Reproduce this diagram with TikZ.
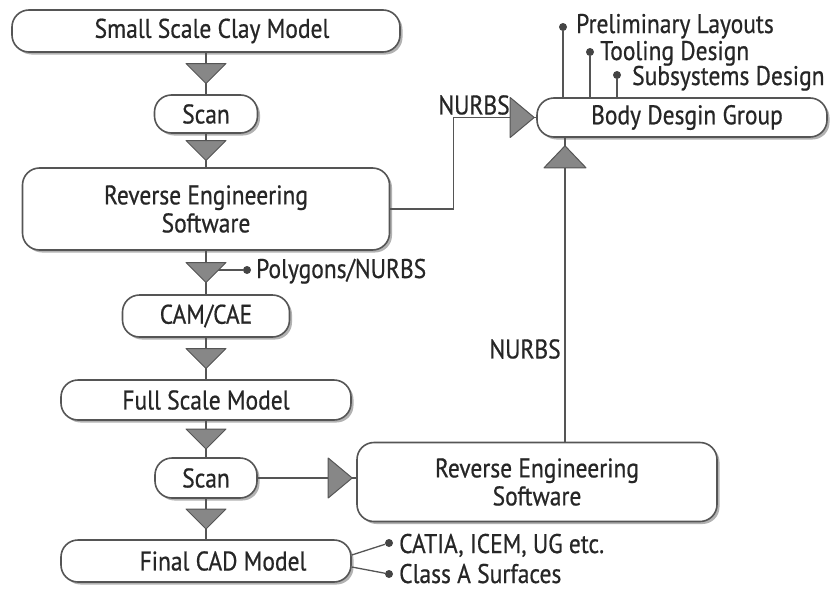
\documentclass[tikz,border=0pt]{standalone}
\usepackage{fontspec}
\setmainfont[FakeStretch=0.87,FakeBold=0.6]{PT Sans}
\usetikzlibrary{shadows,calc}
\definecolor{ink}{HTML}{262626}
\definecolor{edge}{HTML}{555555}
\definecolor{trifill}{HTML}{878787}
\tikzset{
  stage/.style={draw=edge, line width=1.6pt, fill=white, rounded corners=17pt,
    text=ink, font=\fontsize{27}{28}\selectfont, align=center, inner sep=0pt,
    drop shadow={shadow xshift=2.5pt, shadow yshift=-2.5pt, opacity=0.3, fill=black}},
  conn/.style={draw=edge, line width=1.6pt},
  leader/.style={draw=edge, line width=1.3pt},
  tri/.style={fill=trifill, draw=edge, line width=1pt, line join=round},
  dot/.style={circle, fill=edge!80!black, inner sep=0pt, minimum size=8pt},
  lbl/.style={text=ink, font=\fontsize{27}{28}\selectfont, inner sep=0pt},
  note/.style={lbl, anchor=base west},
  pics/downtri/.style={code={\path[tri] (-20,-10) -- (20,-10) -- (0,10) -- cycle;}},
  pics/righttri/.style={code={\path[tri] (-12,-20) -- (-12,20) -- (12,0) -- cycle;}},
  pics/uptri/.style={code={\path[tri] (-21,11) -- (21,11) -- (0,-11) -- cycle;}},
}
\begin{document}
\begin{tikzpicture}[x=1pt,y=-1pt]
\useasboundingbox (0,0) rectangle (837,589);

% main column of process stages
\node[stage, minimum width=388pt, minimum height=42pt] (clay)  at (206,31)  {\hspace*{12pt}Small Scale Clay Model};
\node[stage, minimum width=103pt, minimum height=38pt] (scan1) at (206,114) {Scan};
\node[stage, minimum width=367pt, minimum height=82pt] (re1)   at (206,209) {Reverse Engineering\\Software};
\node[stage, minimum width=167pt, minimum height=42pt] (cam)   at (206,316) {CAM/CAE};
\node[stage, minimum width=290pt, minimum height=40pt] (full)  at (206,400) {Full Scale Model};
\node[stage, minimum width=102pt, minimum height=40pt] (scan2) at (206,478) {Scan};
\node[stage, minimum width=290pt, minimum height=42pt] (final) at (206,561) {\hspace*{34pt}Final CAD Model};

% right-hand stages
\node[stage, minimum width=360pt, minimum height=79pt] (re2)  at (537,482) {Reverse Engineering\\Software};
\node[stage, minimum width=290pt, minimum height=39pt] (body) at (682,117.5) {\hspace*{10pt}Body Desgin Group};

% downward flow with arrow triangles
\draw[conn] (clay)  -- coordinate (m1) (scan1);
\draw[conn] (scan1) -- coordinate (m2) (re1);
\draw[conn] (re1)   -- coordinate (m3) (cam);
\draw[conn] (cam)   -- coordinate (m4) (full);
\draw[conn] (full)  -- coordinate (m5) (scan2);
\draw[conn] (scan2) -- coordinate (m6) (final);

% polygon output note
\node[dot] (dpoly) at (247,270) {};
\node[note] (tpoly) at (256,278) {Polygons/NURBS};
\draw[leader] (m3 |- dpoly) -- (dpoly);

\foreach \m in {m1,m2,m3,m4,m5,m6} \pic at (\m) {downtri};

% scan to second reverse engineering step
\coordinate (re2in) at (scan2.east -| re2.west);
\draw[conn] (scan2.east) -- (re2in);
\pic at ([xshift=-16pt]re2in) {righttri};

% NURBS from first reverse engineering step to body design
\draw[conn] (re1.east) -- ++(63,0) |- (body.west);
\pic at ([xshift=-14pt]body.west) {righttri};
\node[lbl] (nurbsA) at (474,105) {NURBS};

% NURBS from second reverse engineering step up to body design
\coordinate (r2top) at ([xshift=28pt]re2.north);
\coordinate (bodyin) at (r2top |- body.south);
\draw[conn] (r2top) -- (bodyin);
\pic at ([yshift=-19pt]bodyin) {uptri};
\node[lbl] (nurbsB) at (525,349) {NURBS};

% body design outputs
\node[dot] (dp1) at (563,27) {};
\node[dot] (dp2) at (590,52) {};
\node[dot] (dp3) at (617,75) {};
\draw[leader] (dp1) -- (dp1 |- body.north);
\draw[leader] (dp2) -- (dp2 |- body.north);
\draw[leader] (dp3) -- (dp3 |- body.north);
\node[note] (tp1) at (576,33) {Preliminary Layouts};
\node[note] (tp2) at (600,60) {Tooling Design};
\node[note] (tp3) at (632,85) {Subsystems Design};

% final CAD model outputs
\node[dot] (dc1) at (389,543) {};
\node[dot] (dc2) at (389,574) {};
\draw[leader] ([yshift=6pt]final.east) -- (dc1);
\draw[leader] ([yshift=-6pt]final.east) -- (dc2);
\node[note] (tc1) at (399,553) {CATIA, ICEM, UG etc.};
\node[note] (tc2) at (399,583) {Class A Surfaces};
\end{tikzpicture}
\end{document}
